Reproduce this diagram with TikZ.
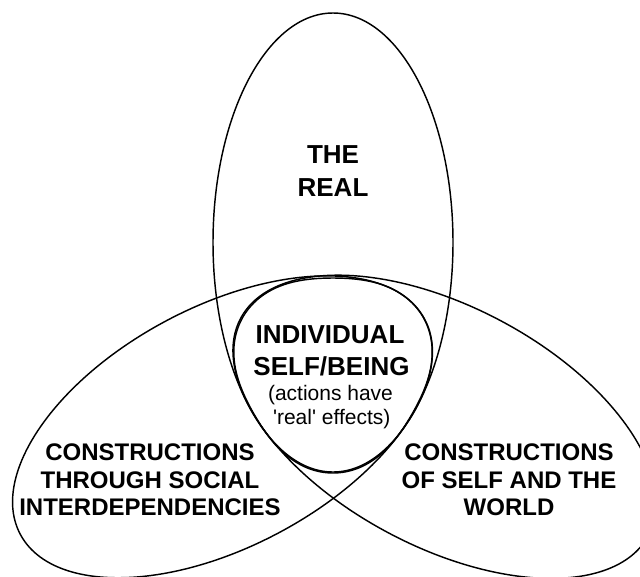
\documentclass[tikz,border=0pt]{standalone}
\usepackage{fontspec}
\setmainfont{Liberation Sans}
\begin{document}
\begin{tikzpicture}[x=1pt,y=-1pt,
  outline/.style={draw=black, line width=1.45pt},
  biglbl/.style={font=\fontsize{24}{27.5}\selectfont\bfseries, align=center, inner sep=0pt},
  ctrbold/.style={font=\fontsize{26}{30}\selectfont\bfseries, anchor=base, inner sep=0pt},
  ctrplain/.style={font=\fontsize{21}{24}\selectfont, anchor=base, inner sep=0pt}]
\path[use as bounding box, fill=white] (0,0) rectangle (640,576);
\begin{scope}
\clip (0,0) rectangle (640,576);
% the real (top)
\draw[outline] (333,242.5) ellipse [x radius=120pt, y radius=229.5pt];
% constructions of self and the world (right)
\draw[outline, rotate around={-28:(444.6,426.8)}] (444.6,426.8) ellipse [x radius=231pt, y radius=120pt];
% constructions through social interdependencies (left)
\draw[outline, rotate around={28:(222.5,426.8)}] (222.5,426.8) ellipse [x radius=229pt, y radius=120pt];
% individual self/being
\draw[outline] plot[domain=0:357.5, samples=144, smooth cycle]
  ({333+(97.5+6.5*cos(3*(\x-90)))*cos(\x)}, {369+(97.5+6.5*cos(3*(\x-90)))*sin(\x)});
\end{scope}
\node[biglbl, font=\fontsize{26}{33}\selectfont\bfseries] (real) at (333,171) {THE\\REAL};
\node[biglbl] (social) at (150,480) {CONSTRUCTIONS\\THROUGH SOCIAL\\INTERDEPENDENCIES};
\node[biglbl] (world) at (509,480) {CONSTRUCTIONS\\OF SELF AND THE\\WORLD};
\node[ctrbold] (indA) at (330,343.3) {INDIVIDUAL};
\node[ctrbold] (indB) at (331.5,375) {SELF/BEING};
\node[ctrplain] (indC) at (330.5,400.5) {(actions have};
\node[ctrplain] (indD) at (331.7,424.5) {\textquotesingle real\textquotesingle{} effects)};
\end{tikzpicture}
\end{document}
